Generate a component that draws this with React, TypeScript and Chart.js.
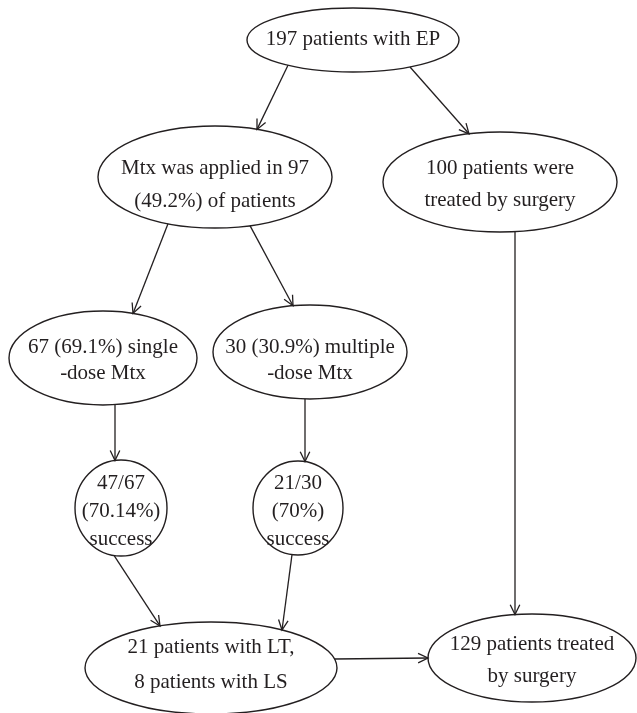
import React, { useEffect, useRef } from "react";
import { Chart, registerables } from "chart.js";

Chart.register(...registerables);

// Flowchart nodes (values in the chart's own x/y scale units)
const NODE_LABELS: string[][] = [
  ["197 patients with EP"],
  ["Mtx was applied in 97", "(49.2%) of patients"],
  ["100 patients were", "treated by surgery"],
  ["67 (69.1%) single", "-dose Mtx"],
  ["30 (30.9%) multiple", "-dose Mtx"],
  ["47/67", "(70.14%)", "success"],
  ["21/30", "(70%)", "success"],
  ["21 patients with LT,", "8 patients with LS"],
  ["129 patients treated", "by surgery"],
];
const NODE_X = [353, 215, 500, 103, 310, 121, 298, 211, 532];
const NODE_Y = [40, 177, 182, 358, 352, 508, 508, 668, 658];
const NODE_RX = [106, 117, 117, 94, 97, 46, 45, 126, 104];
const NODE_RY = [32, 51, 50, 47, 47, 48, 47, 46, 44];

// Edges: from node, to node, anchor (x for vertical edges, y for horizontal edges)
const EDGE_FROM = [0, 0, 1, 1, 2, 3, 4, 5, 6, 7];
const EDGE_TO = [1, 2, 3, 4, 8, 5, 6, 7, 7, 8];
const EDGE_START = [288, 410, 168, 250, 515, 115, 305, 114, 292, 659];
const EDGE_END = [257, 469, 133, 293, 515, 115, 305, 160, 282, 658];
const EDGE_KIND = ["v", "v", "v", "v", "v", "v", "v", "v", "v", "h"];

// text layout per node
const TEXT_SHIFT = [5, 13.5, 8, 8, 14, 8.5, 8.5, 2.5, 8];
const LINE_GAP = [0, 33, 32, 26, 26, 28, 28, 35, 32];

const INK = "#231f20";
const FONT = '21px "Liberation Serif", "Times New Roman", serif';

const flowPlugin = {
  id: "flow",
  afterDatasetsDraw(chart: any) {
    const { ctx } = chart;
    const xs = chart.scales.x;
    const ys = chart.scales.y;
    const px = (v: number) => xs.getPixelForValue(v);
    const py = (v: number) => ys.getPixelForValue(v);
    const sx = (d: number) => Math.abs(xs.getPixelForValue(d) - xs.getPixelForValue(0));
    const sy = (d: number) => Math.abs(ys.getPixelForValue(d) - ys.getPixelForValue(0));

    ctx.save();
    ctx.strokeStyle = INK;
    ctx.fillStyle = INK;

    // nodes
    NODE_LABELS.forEach((lines, i) => {
      const cx = px(NODE_X[i]);
      const cy = py(NODE_Y[i]);
      ctx.beginPath();
      ctx.lineWidth = 1.4;
      ctx.ellipse(cx, cy, sx(NODE_RX[i]), sy(NODE_RY[i]), 0, 0, Math.PI * 2);
      ctx.stroke();
      ctx.font = FONT;
      ctx.textAlign = "center";
      ctx.textBaseline = "alphabetic";
      const n = lines.length;
      lines.forEach((t, k) => {
        const by = NODE_Y[i] + TEXT_SHIFT[i] + (k - (n - 1) / 2) * LINE_GAP[i];
        ctx.fillText(t, cx, py(by));
      });
    });

    // points on ellipse boundary
    const onEllipse = (node: number, anchor: number, kind: string, side: number) => {
      const cx = NODE_X[node], cy = NODE_Y[node], rx = NODE_RX[node], ry = NODE_RY[node];
      if (kind === "v") {
        const d = (anchor - cx) / rx;
        const y = cy + side * ry * Math.sqrt(Math.max(0, 1 - d * d));
        return [anchor, y];
      }
      const d = (anchor - cy) / ry;
      const x = cx + side * rx * Math.sqrt(Math.max(0, 1 - d * d));
      return [x, anchor];
    };

    // edges
    EDGE_FROM.forEach((f, e) => {
      const t = EDGE_TO[e];
      const kind = EDGE_KIND[e];
      const [x0, y0] = onEllipse(f, EDGE_START[e], kind, 1);
      const [x1, y1] = onEllipse(t, EDGE_END[e], kind, -1);
      const ax = px(x0), ay = py(y0), bx = px(x1), by = py(y1);
      ctx.beginPath();
      ctx.lineWidth = 1.3;
      ctx.moveTo(ax, ay);
      ctx.lineTo(bx, by);
      ctx.stroke();
      const ang = Math.atan2(by - ay, bx - ax);
      const len = 11;
      const spread = 0.45;
      ctx.beginPath();
      ctx.moveTo(bx - len * Math.cos(ang - spread), by - len * Math.sin(ang - spread));
      ctx.lineTo(bx, by);
      ctx.lineTo(bx - len * Math.cos(ang + spread), by - len * Math.sin(ang + spread));
      ctx.stroke();
    });
    ctx.restore();
  },
};

export default function App() {
  const ref = useRef<HTMLCanvasElement | null>(null);
  useEffect(() => {
    document.body.style.margin = "0";
    const canvas = ref.current;
    if (!canvas) return;
    const chart = new Chart(canvas, {
      type: "scatter",
      data: {
        datasets: [
          {
            data: NODE_X.map((x, i) => ({ x, y: NODE_Y[i] })),
            pointRadius: 0,
            showLine: false,
          },
        ],
      },
      options: {
        animation: false,
        responsive: false,
        maintainAspectRatio: false,
        devicePixelRatio: 1,
        layout: { padding: 0 },
        plugins: { legend: { display: false }, tooltip: { enabled: false } },
        scales: {
          x: { type: "linear", min: 0, max: 637, display: false },
          y: { type: "linear", min: 0, max: 713, reverse: true, display: false },
        },
      },
      plugins: [flowPlugin],
    });
    return () => chart.destroy();
  }, []);
  return (
    <div style={{ width: 637, height: 713, background: "#fff" }}>
      <canvas ref={ref} width={637} height={713} style={{ display: "block" }} />
    </div>
  );
}
